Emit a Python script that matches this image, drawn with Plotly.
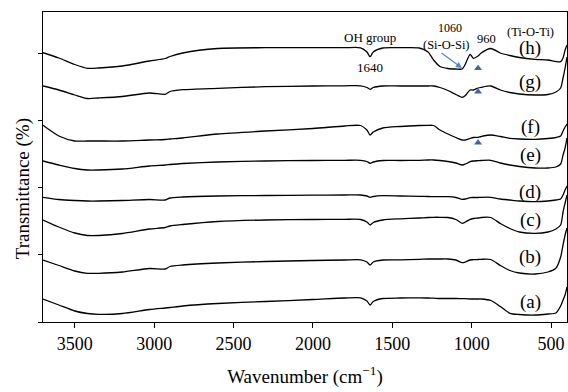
import plotly.graph_objects as go

wavenumber = [3700, 3600, 3500, 3420, 3350, 3200, 3030, 2930, 2900, 2820,
              2600, 2300, 2000, 1800, 1700, 1660, 1640, 1620, 1560, 1450,
              1330, 1275, 1240, 1200, 1150, 1100, 1060, 1040, 1010, 990,
              960, 940, 880, 820, 760, 700, 600, 520, 470, 440,
              425, 412, 400]

# Transmittance (arbitrary units, stacked/offset spectra)
spec_a = [23, 17, 11, 8.5, 7.7, 8.5, 12.5, 14, 14.5, 16,
          18.5, 20.5, 22.5, 24, 24.2, 21, 17, 20.5, 23.5, 24,
          24.2, 24, 23.8, 23.5, 23.5, 23.5, 23.3, 23.3, 23, 23,
          23, 23, 21.5, 15.5, 8.7, 7.5, 7, 8, 9, 16,
          22, 27, 35]
spec_b = [62, 56.5, 51, 48.7, 48.7, 50, 53.5, 53, 55.5, 57,
          59, 60.5, 61.5, 62, 62.2, 60, 57, 60, 62, 62.2,
          62.7, 63, 63, 63, 63, 62, 59.3, 60, 62, 62.3,
          62.5, 62.7, 62.5, 56.5, 51.5, 49, 48, 50, 53.7, 65,
          77, 87, 94]
spec_c = [102, 95, 89, 86.5, 86.5, 88.5, 93, 94.5, 96, 97.5,
          100.5, 102, 102.5, 102.7, 102.5, 100, 97, 99.5, 102, 103.2,
          104, 104.5, 104.7, 104.7, 104.5, 102.5, 98.7, 100, 102.7, 103.5,
          104, 104.5, 104.5, 98.5, 93.5, 90, 88.7, 90, 93, 97,
          110, 119, 127]
spec_d = [124.7, 122.5, 121.5, 121, 121, 121.5, 122.5, 122, 124, 125,
          126, 126.5, 126.8, 127, 127, 126, 124.7, 125.5, 126.3, 126,
          125.7, 125.5, 125.3, 125.3, 125.3, 124.5, 122.7, 123, 124.3, 124.5,
          124.5, 124.7, 124.7, 123, 122, 121, 120.3, 121, 122, 123,
          127, 132, 136]
spec_e = [161, 157, 153.5, 152, 152, 153, 156, 157, 157.5, 158.5,
          160, 161, 161.5, 161.7, 161.7, 160.5, 158.7, 160, 161.5, 161.5,
          161.7, 162, 162, 161.5, 160.5, 159, 157, 158, 160.3, 161,
          161.3, 161.5, 161.7, 159, 157, 155.5, 154, 154, 155, 158,
          167, 174, 184]
spec_f = [196.7, 186, 181, 181, 181, 181, 182, 182.5, 183, 184,
          188, 191, 193.5, 196, 196.5, 192, 187, 190, 194, 195.5,
          196.5, 196.7, 196.5, 192, 188, 184.5, 182, 182, 183.5, 184.5,
          184.7, 185.5, 187, 185.5, 183.7, 183, 182.7, 183.5, 184.5, 186,
          191, 195, 198]
spec_g = [236, 232, 227, 223.5, 224, 225.5, 229, 227.7, 230.5, 232.3,
          233.7, 235.3, 236, 236.2, 236.2, 234.5, 232.7, 234.5, 236, 236,
          236, 236, 236, 234.5, 231.5, 227.5, 224.7, 226.5, 232, 232,
          234, 234.7, 236, 232, 229.5, 228, 227, 227.5, 230, 234,
          244, 254, 265]
spec_h = [269.3, 264, 257.5, 253.7, 254, 256, 261, 263.5, 265.5, 269,
          273.5, 274.3, 274.3, 274.3, 274.2, 270, 265.3, 270, 274, 274.3,
          274, 270, 262, 255.5, 253.5, 253, 253, 258, 267.7, 263.7,
          266, 269, 273.5, 269, 266.5, 264.5, 262.7, 262, 260.5, 260.3,
          264, 272, 277]

series = [("(a)", spec_a), ("(b)", spec_b), ("(c)", spec_c), ("(d)", spec_d),
          ("(e)", spec_e), ("(f)", spec_f), ("(g)", spec_g), ("(h)", spec_h)]

# Curve labels (text, y position)
label_text = ["(a)", "(b)", "(c)", "(d)", "(e)", "(f)", "(g)", "(h)"]
label_y = [20, 65, 102, 130, 167, 195, 240, 274]
label_x = 633

# Ti-O-Ti band markers at 960 cm-1
marker_x = [960, 960, 960]
marker_y = [253.7, 230.3, 179.3]

x_ticks = [500, 1000, 1500, 2000, 2500, 3000, 3500]
y_ticks = [0, 68, 135, 202, 269]

SERIF = "Liberation Serif"

fig = go.Figure()
for name, vals in series:
    fig.add_trace(go.Scatter(
        x=wavenumber, y=vals, mode="lines", name=name,
        line=dict(color="black", width=1.3, shape="spline", smoothing=0.7),
        showlegend=False, hoverinfo="skip"))

fig.add_trace(go.Scatter(
    x=marker_x, y=marker_y, mode="markers",
    marker=dict(symbol="triangle-up", size=7, color="#3c67a3"),
    showlegend=False, hoverinfo="skip"))

annotations = []
for t, y in zip(label_text, label_y):
    annotations.append(dict(x=label_x, y=y, xref="x", yref="y", text=t,
                            showarrow=False, xanchor="center", yanchor="middle",
                            font=dict(family=SERIF, size=19, color="black")))

small = [("OH group", 1641, 285, 13), ("1640", 1641, 255, 13),
         ("1060", 1137, 294, 12), ("(Si-O-Si)", 1156, 277, 12.5),
         ("960", 904, 283, 12.5), ("(Ti-O-Ti)", 633, 290, 12.5)]
for t, x, y, s in small:
    annotations.append(dict(x=x, y=y, xref="x", yref="y", text=t,
                            showarrow=False, xanchor="center", yanchor="middle",
                            font=dict(family=SERIF, size=s, color="black")))

# arrow to the 1060 Si-O-Si band
annotations.append(dict(x=1062, y=254, xref="x", yref="y",
                        ax=1200, ay=270, axref="x", ayref="y",
                        text="", showarrow=True, arrowhead=2, arrowsize=1,
                        arrowwidth=1.2, arrowcolor="#4a86c8"))

# y-axis title
annotations.append(dict(x=-0.039, y=0.43, xref="paper", yref="paper",
                        text="Transmittance (%)", textangle=-90, showarrow=False,
                        xanchor="center", yanchor="middle",
                        font=dict(family=SERIF, size=19, color="black")))

fig.update_layout(
    width=568, height=392,
    margin=dict(l=43, r=1, t=12, b=70),
    paper_bgcolor="white", plot_bgcolor="white",
    annotations=annotations,
    xaxis=dict(range=[3700, 400], tickvals=x_ticks, ticks="outside",
               ticklen=5, tickwidth=1.2, tickcolor="black",
               showline=True, linecolor="black", linewidth=1.2, mirror=True,
               showgrid=False, zeroline=False,
               tickfont=dict(family=SERIF, size=18, color="black"),
               title=dict(text="Wavenumber (cm<sup>−1</sup>)", standoff=16,
                          font=dict(family=SERIF, size=19, color="black"))),
    yaxis=dict(range=[0, 310], tickvals=y_ticks, ticks="outside",
               ticklen=4, tickwidth=1.2, tickcolor="black",
               showticklabels=False,
               showline=True, linecolor="black", linewidth=1.2, mirror=True,
               showgrid=False, zeroline=False),
)

fig.write_html("out.html",
               config={"displayModeBar": False},
               post_script="document.body.style.margin='0px';")
